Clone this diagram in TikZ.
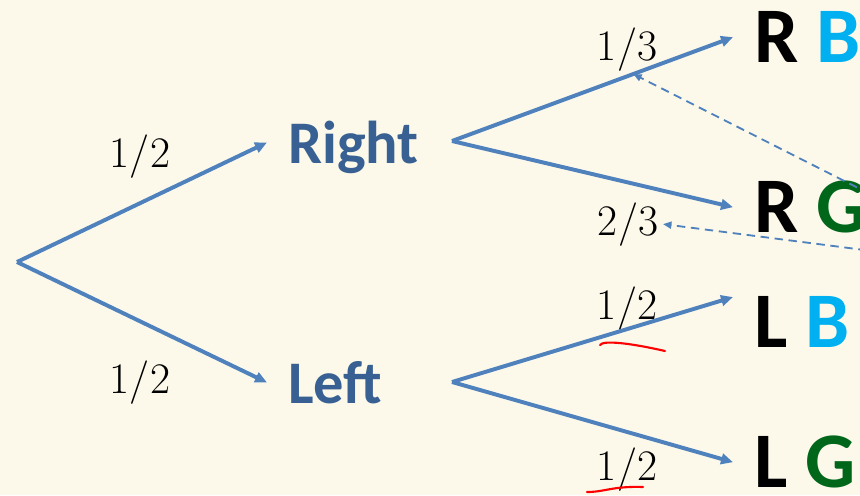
\documentclass[tikz,border=0pt]{standalone}
\usepackage{fontspec}
\newfontfamily\calibri{Carlito}
\usepackage{xcolor}
\usetikzlibrary{arrows.meta}
\definecolor{paper}{RGB}{252,249,234}
\definecolor{branch}{RGB}{79,129,189}
\definecolor{lvltext}{RGB}{56,96,146}
\definecolor{ballB}{RGB}{0,176,240}
\definecolor{ballG}{RGB}{0,102,26}

\begin{document}
\begin{tikzpicture}[x=0.025cm, y=-0.025cm,
    prob/.style={font=\fontsize{31}{36}\selectfont, anchor=base},
    lvl/.style={font=\calibri\bfseries\fontsize{43}{50}\selectfont, text=lvltext, anchor=base west,
                inner xsep=15pt, inner ysep=0pt, text height=29.2pt, text depth=0pt},
    leaf/.style={font=\calibri\bfseries\fontsize{56}{64}\selectfont, anchor=base west,
                 inner xsep=15pt, inner ysep=0pt, text height=35.3pt, text depth=0pt},
    arr/.style={-{Triangle[length=8.5pt,width=7.5pt]}, branch, line width=2.8pt},
    hint/.style={-{Triangle[length=6pt,width=5pt]}, branch, line width=1.3pt, dash pattern=on 6pt off 4pt},
    scribble/.style={red, line width=1.5pt, line cap=round},
]
\useasboundingbox (0,0) rectangle (860,495);
\fill[paper] (0,0) rectangle (860,495);
\clip (0,0) rectangle (860,495);

\coordinate (root) at (17,262);
\node[lvl] (right) at (267,163) {Right};
\node[lvl] (left)  at (267,403) {Left};
\coordinate (rfork) at (452,141);
\coordinate (lfork) at (452,382);
\node[leaf] (rb) at (733,62)  {R {\color{ballB}B}};
\node[leaf] (rg) at (733,232) {R {\color{ballG}G}};
\node[leaf] (lb) at (733,347) {L {\color{ballB}B}};
\node[leaf] (lg) at (733,487) {L {\color{ballG}G}};

\node[prob] (pr)  at (140,167) {1/2};
\node[prob] (pl)  at (140,393) {1/2};
\node[prob] (prb) at (627,60)  {1/3};
\node[prob] (prg) at (628,235) {2/3};
\node[prob] (plb) at (627,319) {1/2};
\node[prob] (plg) at (627,480) {1/2};

\draw[arr] (root) -- (right.west);
\draw[arr] (root) -- (left.west);
\draw[arr] (rfork) -- coordinate[pos=0.645] (hitrb) (rb.west);
\draw[arr] (rfork) -- (rg.west);
\draw[arr] (lfork) -- (lb.north west);
\draw[arr] (lfork) -- (lg.west);

\coordinate (src) at (1020,270);
\draw[hint] (src) -- (hitrb);
\draw[hint] (src) -- (prg.east);

\draw[scribble] (600,345) .. controls (603,340) and (630,343) .. (665,351);
\draw[scribble] (587,492) .. controls (605,492) and (612,486) .. (643,487);
\end{tikzpicture}
\end{document}
